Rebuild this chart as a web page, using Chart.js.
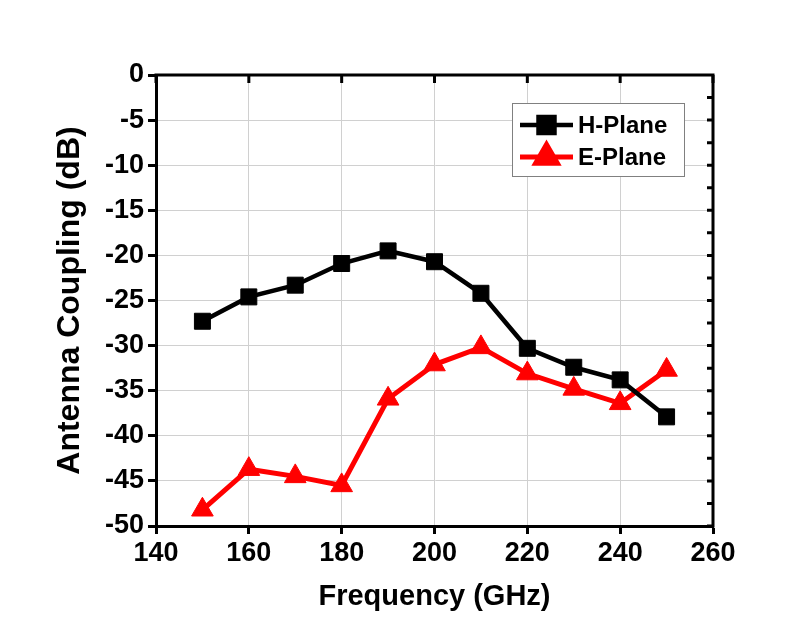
<!DOCTYPE html>
<html>
<head>
<meta charset="utf-8">
<script src="https://cdn.jsdelivr.net/npm/chart.js@4/dist/chart.umd.min.js"></script>
<style>
  html, body { margin: 0; padding: 0; background: #ffffff; }
  #wrap { width: 812px; height: 625px; position: relative; }
</style>
</head>
<body>
<div id="wrap"><canvas id="c" width="812" height="625"></canvas></div>
<script>
// ---- Data ----
const frequencies = [150, 160, 170, 180, 190, 200, 210, 220, 230, 240, 250];
const hPlane = [-27.3, -24.6, -23.3, -20.9, -19.5, -20.7, -24.2, -30.3, -32.4, -33.8, -37.9];
const ePlane = [-48.2, -43.7, -44.5, -45.5, -35.9, -32.1, -30.2, -33.1, -34.8, -36.4, -32.7];
const seriesNames = ['H-Plane', 'E-Plane'];
const xTicks = [140, 160, 180, 200, 220, 240, 260];
const yTicks = [-50, -45, -40, -35, -30, -25, -20, -15, -10, -5, 0];
const xTitle = 'Frequency (GHz)';
const yTitle = 'Antenna Coupling (dB)';

const FONT = '"Liberation Sans", Arial, sans-serif';

const toPoints = (xs, ys) => xs.map((x, i) => ({ x: x, y: ys[i] }));

const framePlugin = {
  id: 'frame',
  beforeDatasetsDraw(chart) {
    const { ctx, chartArea: a, scales } = chart;
    ctx.save();
    ctx.strokeStyle = '#000';
    ctx.lineWidth = 3;
    ctx.lineCap = 'butt';
    ctx.beginPath();
    ctx.moveTo(a.left - 1.5, a.top);
    ctx.lineTo(a.right + 1.5, a.top);
    ctx.moveTo(a.right, a.top);
    ctx.lineTo(a.right, a.bottom + 1.5);
    ctx.stroke();
    ctx.beginPath();
    xTicks.forEach(v => {
      const px = scales.x.getPixelForValue(v);
      ctx.moveTo(px, a.top);
      ctx.lineTo(px, a.top + 8);
    });
    for (let i = 0; i < yTicks.length - 1; i++) {
      const v0 = yTicks[i], v1 = yTicks[i + 1];
      [v0, (v0 + v1) / 2].forEach(v => {
        const py = scales.y.getPixelForValue(v);
        ctx.moveTo(a.right, py);
        ctx.lineTo(a.right - 6, py);
      });
    }
    ctx.stroke();
    ctx.restore();
  },
  afterDraw(chart) {
    const { ctx } = chart;
    const ds = chart.data.datasets;
    ctx.save();
    ctx.fillStyle = '#ffffff';
    ctx.fillRect(512, 103, 172, 73);
    ctx.strokeStyle = '#808080';
    ctx.lineWidth = 1;
    ctx.strokeRect(512.5, 103.5, 172, 73);
    const rows = [125, 157];
    ds.forEach((d, i) => {
      const y = rows[i];
      ctx.strokeStyle = d.borderColor;
      ctx.lineWidth = d.borderWidth;
      ctx.beginPath();
      ctx.moveTo(520, y);
      ctx.lineTo(573, y);
      ctx.stroke();
      ctx.fillStyle = d.pointBackgroundColor;
      ctx.strokeStyle = d.pointBorderColor;
      Chart.helpers.drawPoint(ctx, {
        pointStyle: d.pointStyle, radius: d.pointRadius, rotation: 0, borderWidth: 1
      }, 546.5, y);
      ctx.fillStyle = '#000';
      ctx.font = 'bold 24px ' + FONT;
      ctx.textAlign = 'left';
      ctx.textBaseline = 'middle';
      ctx.fillText(d.label, 578, y + 1);
    });
    ctx.restore();
  }
};

new Chart(document.getElementById('c'), {
  type: 'line',
  data: {
    datasets: [
      {
        label: seriesNames[0],
        data: toPoints(frequencies, hPlane),
        borderColor: '#000000',
        backgroundColor: '#000000',
        pointBackgroundColor: '#000000',
        pointBorderColor: '#000000',
        borderWidth: 4.5,
        pointStyle: 'rect',
        pointRadius: 11.3,
        pointBorderWidth: 1,
        tension: 0
      },
      {
        label: seriesNames[1],
        data: toPoints(frequencies, ePlane),
        borderColor: '#ff0000',
        backgroundColor: '#ff0000',
        pointBackgroundColor: '#ff0000',
        pointBorderColor: '#ff0000',
        borderWidth: 5,
        pointStyle: 'triangle',
        pointRadius: 12.5,
        pointBorderWidth: 1,
        tension: 0
      }
    ]
  },
  options: {
    responsive: false,
    animation: false,
    events: [],
    layout: { padding: { top: 75, right: 99, left: 0, bottom: 0 } },
    plugins: { legend: { display: false }, tooltip: { enabled: false } },
    scales: {
      x: {
        type: 'linear',
        min: 140, max: 260,
        afterBuildTicks: s => { s.ticks = xTicks.map(v => ({ value: v })); },
        afterFit: s => { s.height = 99; },
        grid: { color: '#d0d0d0', lineWidth: 1, tickColor: '#000', tickLength: 8, tickWidth: 3, drawOnChartArea: true },
        border: { display: true, color: '#000', width: 3 },
        ticks: { color: '#000', font: { family: FONT, size: 27, weight: 'bold' }, padding: 3, maxRotation: 0 },
        title: { display: true, text: xTitle, color: '#000', font: { family: FONT, size: 29, weight: 'bold' }, padding: { top: 0, bottom: 11 } }
      },
      y: {
        type: 'linear',
        min: -50, max: 0,
        afterBuildTicks: s => { s.ticks = yTicks.map(v => ({ value: v })); },
        afterFit: s => { s.width = 156; },
        grid: { color: '#d0d0d0', lineWidth: 1, tickColor: '#000', tickLength: 8, tickWidth: 3 },
        border: { display: true, color: '#000', width: 3 },
        ticks: { color: '#000', font: { family: FONT, size: 27, weight: 'bold' }, padding: 4 },
        title: { display: true, text: yTitle, color: '#000', font: { family: FONT, size: 32, weight: 'bold' }, padding: { top: 51, bottom: 0 } }
      }
    }
  },
  plugins: [framePlugin]
});
</script>
</body>
</html>
